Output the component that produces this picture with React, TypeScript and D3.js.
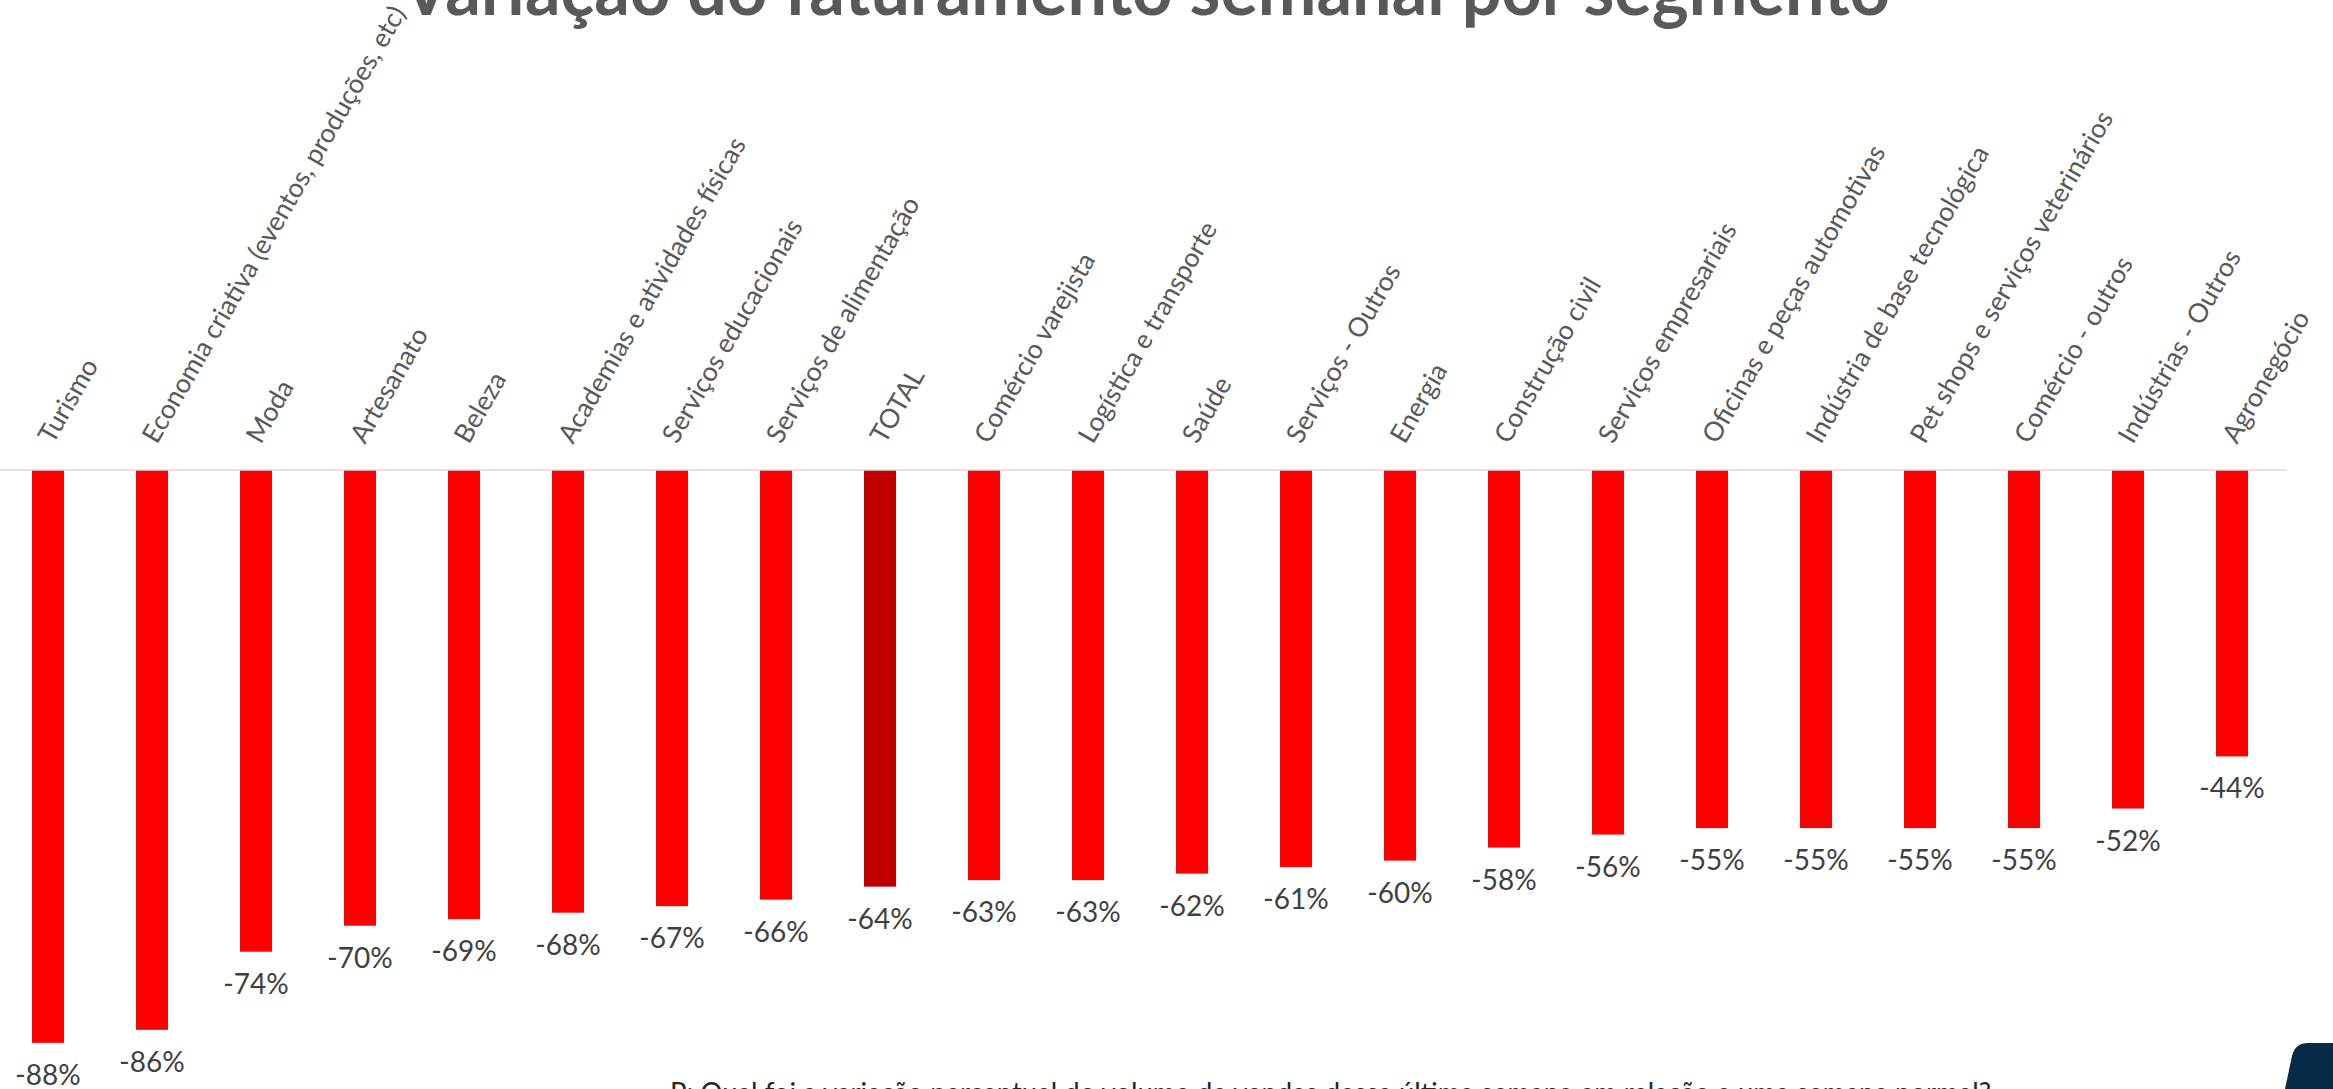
import React from "react";
import * as d3 from "d3";

// Weekly revenue change by segment (%)
const categories = [
  "Turismo",
  "Economia criativa (eventos, produções, etc)",
  "Moda",
  "Artesanato",
  "Beleza",
  "Academias e atividades físicas",
  "Serviços educacionais",
  "Serviços de alimentação",
  "TOTAL",
  "Comércio varejista",
  "Logística e transporte",
  "Saúde",
  "Serviços - Outros",
  "Energia",
  "Construção civil",
  "Serviços empresariais",
  "Oficinas e peças automotivas",
  "Indústria de base tecnológica",
  "Pet shops e serviços veterinários",
  "Comércio - outros",
  "Indústrias - Outros",
  "Agronegócio",
];
const values = [-88, -86, -74, -70, -69, -68, -67, -66, -64, -63, -63, -62, -61, -60, -58, -56, -55, -55, -55, -55, -52, -44];
const totalLabel = "TOTAL";

const title = "Variação do faturamento semanal por segmento";
const question =
  "P: Qual foi a variação percentual do volume de vendas dessa última semana em relação a uma semana normal?";

const W = 2333;
const H = 1089;
const FONT = "Lato, 'Open Sans', sans-serif";

export default function App() {
  const x = d3.scalePoint<string>().domain(categories).range([48, 2232]);
  const y = d3.scaleLinear().domain([0, -100]).range([470, 1121]);
  const barW = 32;

  const rows = categories.map((c, i) => ({ cat: c, value: values[i] }));

  return (
    <svg
      width={W}
      height={H}
      viewBox={`0 0 ${W} ${H}`}
      style={{ position: "fixed", left: 0, top: 0, display: "block", background: "#fff" }}
    >
      {/* title, cut off at the top like the source */}
      <text
        x={1146}
        y={15}
        textAnchor="middle"
        fontFamily={FONT}
        fontWeight={700}
        fontSize={72}
        fill="#595959"
        textLength={1488}
        lengthAdjust="spacingAndGlyphs"
      >
        {title}
      </text>

      {/* bars */}
      {rows.map((d) => (
        <rect
          key={d.cat}
          x={(x(d.cat) ?? 0) - barW / 2}
          y={y(0)}
          width={barW}
          height={y(d.value) - y(0)}
          fill={d.cat === totalLabel ? "#c00000" : "#ff0000"}
        />
      ))}

      {/* zero line */}
      <line x1={0} x2={2287} y1={y(0)} y2={y(0)} stroke="#d9d9d9" strokeWidth={2} strokeOpacity={0.75} />

      {/* category labels */}
      {rows.map((d) => (
        <text
          key={"c" + d.cat}
          transform={`translate(${(x(d.cat) ?? 0) + 5},445) rotate(-60)`}
          fontFamily={FONT}
          fontSize={26.5}
          fill="#595959"
        >
          {d.cat}
        </text>
      ))}

      {/* value labels */}
      {rows.map((d) => (
        <text
          key={"v" + d.cat}
          x={x(d.cat) ?? 0}
          y={y(d.value) + 42}
          textAnchor="middle"
          fontFamily={FONT}
          fontSize={28}
          fill="#404040"
        >
          {`${d.value}%`}
        </text>
      ))}

      {/* question, cut off at the bottom */}
      <text
        x={670}
        y={1103}
        fontFamily={FONT}
        fontSize={29}
        fill="#262626"
        textLength={1321}
        lengthAdjust="spacingAndGlyphs"
      >
        {question}
      </text>

      {/* dark corner shape */}
      <path d="M2285,1089 L2292,1056 Q2295,1043 2308,1043 L2333,1043 L2333,1089 Z" fill="#052b48" />
    </svg>
  );
}
